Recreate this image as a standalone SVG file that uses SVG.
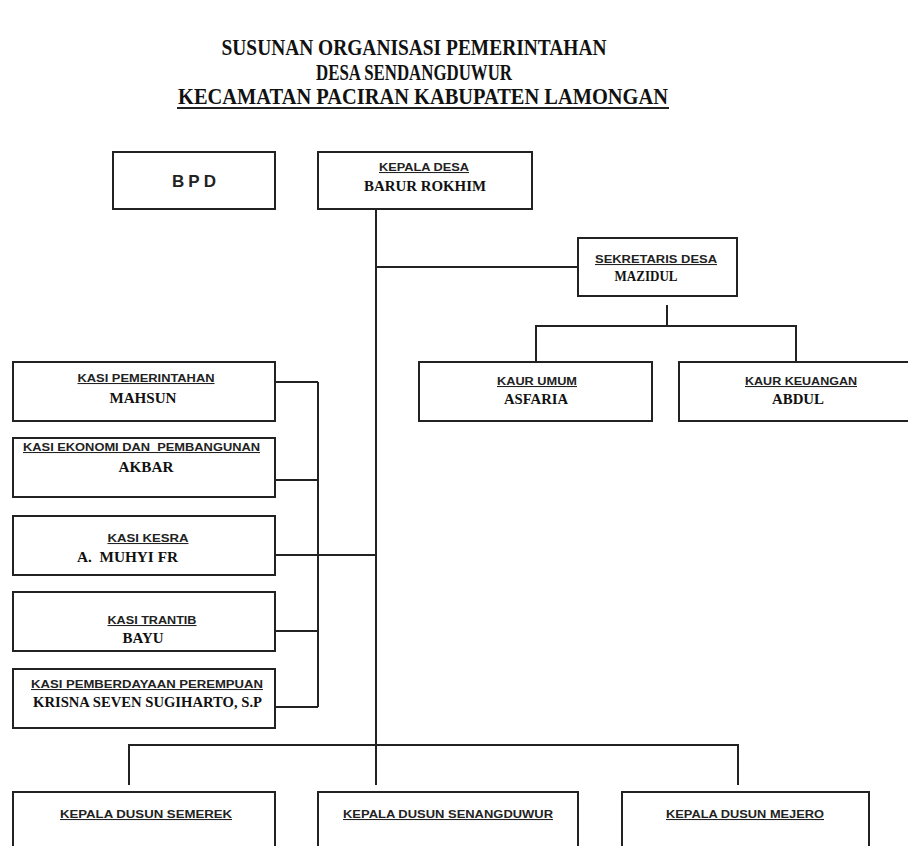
<svg xmlns="http://www.w3.org/2000/svg" width="908" height="846" viewBox="0 0 908 846">
<style>
.box{fill:#fff;stroke:#222;stroke-width:2}
.ln{stroke:#222;stroke-width:2;fill:none}
.title{font-family:"Liberation Serif",serif;font-weight:bold;font-size:23px;fill:#111}
.lbl{font-family:"Liberation Sans",Arial,sans-serif;font-weight:bold;font-size:10.5px;fill:#222;text-decoration:underline}
.nm{font-family:"Liberation Serif",serif;font-weight:bold;font-size:15.5px;fill:#111}
.bpd{font-family:"Liberation Sans",Arial,sans-serif;font-weight:bold;font-size:17px;fill:#222;letter-spacing:4px}
</style>
<rect width="908" height="846" fill="#fff"/>
<g id="title">
<text class="title" x="414" y="55" text-anchor="middle" textLength="385" lengthAdjust="spacingAndGlyphs">SUSUNAN ORGANISASI PEMERINTAHAN</text>
<text class="title" x="414" y="80" text-anchor="middle" textLength="196" lengthAdjust="spacingAndGlyphs">DESA SENDANGDUWUR</text>
<text class="title" x="423" y="104" text-anchor="middle" textLength="490" lengthAdjust="spacingAndGlyphs">KECAMATAN PACIRAN KABUPATEN LAMONGAN</text>
<line x1="177" y1="108" x2="669" y2="108" stroke="#222" stroke-width="2"/>
</g>
<g id="connectors">
<path class="ln" d="M376 209 V785"/>
<path class="ln" d="M376 267 H578"/>
<path class="ln" d="M667 305 V326 M536 362 V326 H796 V362"/>
<path class="ln" d="M275 382 H318 M275 480 H318 M275 555 H376 M275 631 H318 M275 707 H318 M318 382 V707"/>
<path class="ln" d="M129 785 V745 H738 V785"/>
</g>
<g id="bpd">
<rect class="box" x="113" y="152" width="162" height="57"/>
<text class="bpd" x="196" y="187" text-anchor="middle">BPD</text>
</g>
<g id="kepala-desa">
<rect class="box" x="318" y="152" width="214" height="57"/>
<text class="lbl" x="424" y="171" text-anchor="middle" textLength="90" lengthAdjust="spacingAndGlyphs">KEPALA DESA</text>
<text class="nm" x="425" y="191" text-anchor="middle" textLength="122" lengthAdjust="spacingAndGlyphs">BARUR ROKHIM</text>
</g>
<g id="sekretaris">
<rect class="box" x="578" y="238" width="159" height="58"/>
<text class="lbl" x="656" y="263" text-anchor="middle" textLength="122" lengthAdjust="spacingAndGlyphs">SEKRETARIS DESA</text>
<text class="nm" x="646" y="281" text-anchor="middle" textLength="63" lengthAdjust="spacingAndGlyphs">MAZIDUL</text>
</g>
<g id="kaur-umum">
<rect class="box" x="419" y="362" width="233" height="59"/>
<text class="lbl" x="537" y="385" text-anchor="middle" textLength="80" lengthAdjust="spacingAndGlyphs">KAUR UMUM</text>
<text class="nm" x="536" y="404" text-anchor="middle" textLength="64" lengthAdjust="spacingAndGlyphs">ASFARIA</text>
</g>
<g id="kaur-keuangan">
<rect class="box" x="679" y="362" width="240" height="59"/>
<text class="lbl" x="801" y="385" text-anchor="middle" textLength="112" lengthAdjust="spacingAndGlyphs">KAUR KEUANGAN</text>
<text class="nm" x="798" y="404" text-anchor="middle" textLength="52" lengthAdjust="spacingAndGlyphs">ABDUL</text>
</g>
<g id="kasi-pemerintahan">
<rect class="box" x="13" y="362" width="262" height="59"/>
<text class="lbl" x="146" y="382" text-anchor="middle" textLength="137" lengthAdjust="spacingAndGlyphs">KASI PEMERINTAHAN</text>
<text class="nm" x="143" y="403" text-anchor="middle" textLength="67" lengthAdjust="spacingAndGlyphs">MAHSUN</text>
</g>
<g id="kasi-ekonomi">
<rect class="box" x="13" y="438" width="262" height="59"/>
<text class="lbl" x="23" y="451" textLength="237" lengthAdjust="spacingAndGlyphs" xml:space="preserve">KASI EKONOMI DAN  PEMBANGUNAN</text>
<text class="nm" x="146" y="472" text-anchor="middle" textLength="55" lengthAdjust="spacingAndGlyphs">AKBAR</text>
</g>
<g id="kasi-kesra">
<rect class="box" x="13" y="516" width="262" height="59"/>
<text class="lbl" x="148" y="542" text-anchor="middle" textLength="81" lengthAdjust="spacingAndGlyphs">KASI KESRA</text>
<text class="nm" x="77" y="562" textLength="101" lengthAdjust="spacingAndGlyphs" xml:space="preserve">A.  MUHYI FR</text>
</g>
<g id="kasi-trantib">
<rect class="box" x="13" y="592" width="262" height="59"/>
<text class="lbl" x="152" y="624" text-anchor="middle" textLength="89" lengthAdjust="spacingAndGlyphs">KASI TRANTIB</text>
<text class="nm" x="143" y="643" text-anchor="middle" textLength="41" lengthAdjust="spacingAndGlyphs">BAYU</text>
</g>
<g id="kasi-pemberdayaan">
<rect class="box" x="13" y="669" width="262" height="59"/>
<text class="lbl" x="31" y="688" textLength="232" lengthAdjust="spacingAndGlyphs">KASI PEMBERDAYAAN PEREMPUAN</text>
<text class="nm" x="33" y="707" textLength="229" lengthAdjust="spacingAndGlyphs">KRISNA SEVEN SUGIHARTO, S.P</text>
</g>
<g id="dusun-semerek">
<rect class="box" x="13" y="792" width="262" height="70"/>
<text class="lbl" x="146" y="818" text-anchor="middle" textLength="172" lengthAdjust="spacingAndGlyphs">KEPALA DUSUN SEMEREK</text>
</g>
<g id="dusun-senangduwur">
<rect class="box" x="318" y="792" width="260" height="70"/>
<text class="lbl" x="448" y="818" text-anchor="middle" textLength="210" lengthAdjust="spacingAndGlyphs">KEPALA DUSUN SENANGDUWUR</text>
</g>
<g id="dusun-mejero">
<rect class="box" x="622" y="792" width="247" height="70"/>
<text class="lbl" x="745" y="818" text-anchor="middle" textLength="158" lengthAdjust="spacingAndGlyphs">KEPALA DUSUN MEJERO</text>
</g>
</svg>
